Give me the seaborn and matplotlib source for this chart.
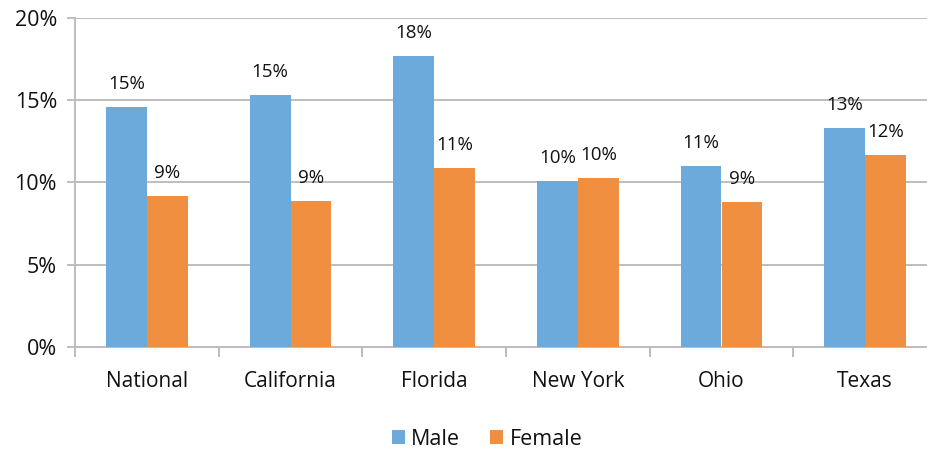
import matplotlib
matplotlib.use("Agg")
import matplotlib.pyplot as plt
from matplotlib.ticker import FixedLocator, PercentFormatter
import seaborn as sns
import pandas as pd

# values (percent)
regions = ["National", "California", "Florida", "New York", "Ohio", "Texas"]
male = [14.6, 15.3, 17.7, 10.1, 11.0, 13.3]
female = [9.2, 8.9, 10.9, 10.3, 8.8, 11.7]
series = ["Male", "Female"]
colors = ["#6DAADC", "#F18F40"]

df = pd.DataFrame({
    "Region": regions * 2,
    "Sex": ["Male"] * len(regions) + ["Female"] * len(regions),
    "Value": male + female,
})

sns.set_style("white")
plt.rcParams["font.family"] = ["Open Sans", "DejaVu Sans"]

fig = plt.figure(figsize=(9.27, 4.5), dpi=100)
ax = fig.add_axes([75 / 927, 103 / 450, 862 / 927, 329 / 450])

sns.barplot(data=df, x="Region", y="Value", hue="Sex", hue_order=series,
            palette=colors, width=0.57, saturation=1, linewidth=0,
            ax=ax, zorder=3)

for cont in ax.containers:
    labels = [f"{v:.0f}%" for v in cont.datavalues]
    ax.bar_label(cont, labels=labels, padding=10, fontsize=13.5, color="#111111")

ax.set_xlim(-0.5, 5.5)
ax.set_ylim(0, 20)
ax.set_yticks([0, 5, 10, 15, 20])
ax.yaxis.set_major_formatter(PercentFormatter(decimals=0))
ax.grid(axis="y", color="#BDBDBD", linewidth=1.4, zorder=0)
ax.set_xlabel("")
ax.set_ylabel("")

for s in ["top", "right"]:
    ax.spines[s].set_visible(False)
for s in ["left", "bottom"]:
    ax.spines[s].set_color("#BDBDBD")
    ax.spines[s].set_linewidth(1.4)

ax.tick_params(axis="y", length=6, width=1.4, color="#BDBDBD", labelsize=15.5,
               labelcolor="#111111", pad=7, left=True)
ax.tick_params(axis="x", which="major", length=0, labelsize=15,
               labelcolor="#111111", pad=17)
ax.xaxis.set_minor_locator(FixedLocator([i - 0.5 for i in range(len(regions))]))
ax.tick_params(axis="x", which="minor", length=7, width=1.4, color="#BDBDBD",
               bottom=True)

ax.legend(loc="upper center", bbox_to_anchor=(0.478, -0.19),
          ncol=2, frameon=False, fontsize=15.5, handlelength=0.6,
          handleheight=0.6, handletextpad=0.3, columnspacing=1.4,
          labelcolor="#111111")

plt.savefig("out.png", dpi=100)
plt.close()
